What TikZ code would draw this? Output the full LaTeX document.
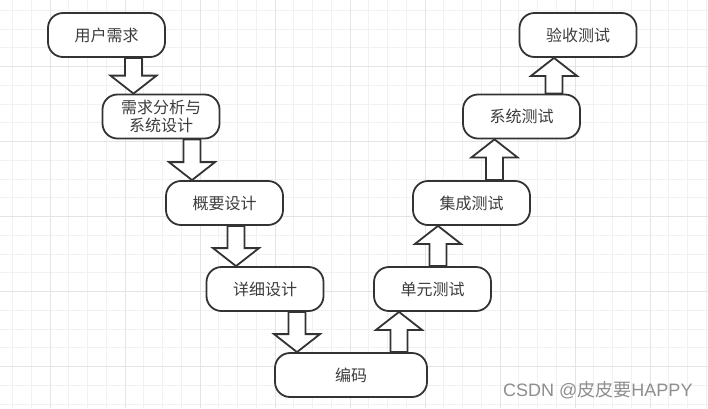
\documentclass[tikz,border=0pt]{standalone}
\usepackage{fontspec}
\newfontfamily\cjk{Noto Sans CJK SC}
\newfontfamily\wmfont{Liberation Sans}
\usetikzlibrary{calc}
\definecolor{linegray}{HTML}{333333}
\definecolor{textgray}{HTML}{3C3C3C}
\definecolor{gridminor}{HTML}{F1F1F1}
\definecolor{gridmajor}{HTML}{E4E4E4}
\definecolor{wmgray}{HTML}{8E8E8E}
\tikzset{
  stage/.style={draw=linegray,line width=1.8pt,fill=white,rounded corners=15pt,
    minimum width=117pt,minimum height=44pt,inner sep=2pt,align=center,
    text=textgray,font=\cjk\fontsize{16}{18}\selectfont},
  flow/.style={draw=linegray,line width=1.8pt,fill=white,line join=miter}
}
% block arrows: #1 from, #2 to, #3 x position
\newcommand\arrowdown[3]{%
  \draw[flow] let \p1=(#1.south), \p2=(#2.north) in
    (#3-8.5,\y1) -- (#3-8.5,\y2+18pt) -- (#3-23,\y2+18pt) -- (#3,\y2)
    -- (#3+23,\y2+18pt) -- (#3+8.5,\y2+18pt) -- (#3+8.5,\y1) -- cycle;}
\newcommand\arrowup[3]{%
  \draw[flow] let \p1=(#1.north), \p2=(#2.south) in
    (#3-8.5,\y1) -- (#3-8.5,\y2-18pt) -- (#3-23,\y2-18pt) -- (#3,\y2)
    -- (#3+23,\y2-18pt) -- (#3+8.5,\y2-18pt) -- (#3+8.5,\y1) -- cycle;}
\begin{document}
\begin{tikzpicture}[x=1pt,y=-1pt]
  \useasboundingbox (0,0) rectangle (708,408);
  \fill[white] (0,0) rectangle (708,408);
  % grid
  \foreach \gx in {12.5,31.25,...,708} \draw[gridminor,line width=1pt] (\gx,0) -- (\gx,408);
  \foreach \gy in {10.45,29.2,...,408} \draw[gridminor,line width=1pt] (0,\gy) -- (708,\gy);
  \foreach \gx in {50,125,...,650} \draw[gridmajor,line width=1pt] (\gx,0) -- (\gx,408);
  \foreach \gy in {66.7,141.7,...,366.7} \draw[gridmajor,line width=1pt] (0,\gy) -- (708,\gy);

  \node[stage] (userreq)  at (106.5,35)  {用户需求};
  \node[stage] (reqana)   at (161,116.5) {需求分析与\\系统设计};
  \node[stage] (outline)  at (224.5,203) {概要设计};
  \node[stage] (detail)   at (265,289)   {详细设计};
  \node[stage,minimum width=152pt] (coding) at (351,375) {编码};
  \node[stage] (unittest) at (432.5,289) {单元测试};
  \node[stage] (integ)    at (471.5,203) {集成测试};
  \node[stage] (systest)  at (521.5,116.5) {系统测试};
  \node[stage] (accept)   at (578,35)    {验收测试};

  \arrowdown{userreq}{reqana}{133.5}
  \arrowdown{reqana}{outline}{192}
  \arrowdown{outline}{detail}{236}
  \arrowdown{detail}{coding}{297}
  \arrowup{coding}{unittest}{399}
  \arrowup{unittest}{integ}{438}
  \arrowup{integ}{systest}{494.5}
  \arrowup{systest}{accept}{554}

  \node[anchor=west,inner sep=0pt,text=wmgray,font=\wmfont\fontsize{18}{20}\selectfont]
    (wm) at (503,390) {CSDN @{\cjk 皮皮要}HAPPY};
\end{tikzpicture}
\end{document}
